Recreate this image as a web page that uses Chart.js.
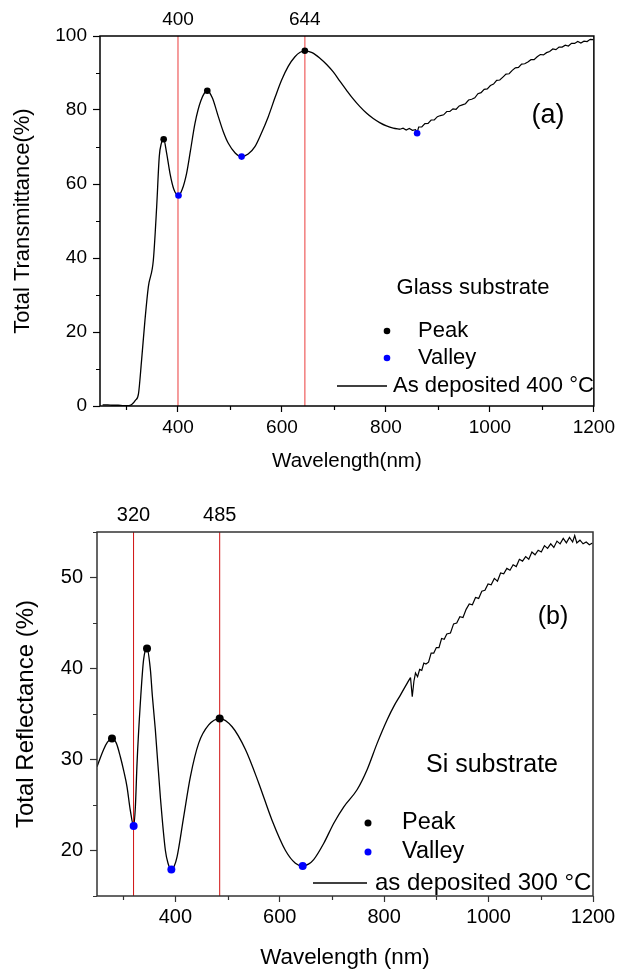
<!DOCTYPE html>
<html>
<head>
<meta charset="utf-8">
<script src="https://cdn.jsdelivr.net/npm/chart.js@4.4.1/dist/chart.umd.min.js"></script>
<style>
  html, body { margin: 0; padding: 0; background: #fff; }
  .panel { width: 619px; height: 486px; }
</style>
</head>
<body>
<div class="panel"><canvas id="chartA" width="619" height="486"></canvas></div>
<div class="panel"><canvas id="chartB" width="619" height="486"></canvas></div>
<script>
// ---- (a) glass substrate, total transmittance ----
// smooth part of the spectrum
const wlA = [255, 265, 275, 285, 295, 305, 311, 318, 324, 330, 336.5, 343, 352.6, 359, 364, 368, 372.5, 378, 384.6, 392,
  401, 408, 416.6, 424, 432.7, 444, 456.4, 466, 477.6, 487, 496.8, 510, 522.4, 535, 548, 560, 573.7, 587, 599.4, 612,
  625, 635, 644, 658, 673, 686, 698.7, 711, 724, 737, 750, 763, 775.6, 788, 801, 814, 827];
const transA = [0.3, 0.3, 0.2, 0.2, 0.1, 0.1, 0.4, 1.5, 3.3, 12.4, 23.2, 32.2, 39.4, 53.8, 67.4, 71.0, 72.1, 68.5, 62.9, 58.6,
  56.9, 58.5, 62.9, 69.0, 76.4, 82.5, 85.2, 83.3, 78.2, 74.2, 71.0, 68.4, 67.4, 68.1, 70.1, 73.6, 78.2, 83.5, 88.1, 91.8,
  94.4, 95.6, 96.0, 95.5, 94.0, 92.3, 90.3, 87.9, 85.4, 83.0, 80.9, 79.1, 77.7, 76.6, 75.7, 75.1, 74.8];
// noisy tail (detector region)
const wlNoisyA = [827, 833, 839, 845, 851, 857, 860, 863, 869, 875, 881, 887, 893, 899, 905, 911, 917, 923, 929, 935, 941,
  947, 953, 959, 965, 971, 977, 983, 989, 995, 1001, 1007, 1013, 1019, 1025, 1031, 1037, 1043, 1049, 1055, 1061, 1067,
  1073, 1079, 1085, 1091, 1097, 1103, 1109, 1115, 1121, 1127, 1133, 1139, 1145, 1151, 1157, 1163, 1169, 1175, 1181,
  1187, 1193, 1199];
const transNoisyA = [74.8, 75.1, 74.6, 75.0, 74.5, 74.7, 73.9, 75.4, 75.4, 76.3, 76.4, 77.3, 77.3, 78.2, 78.5, 78.7, 79.6,
  79.6, 80.3, 80.2, 81.1, 81.4, 81.7, 82.7, 82.9, 83.3, 84.4, 84.7, 85.6, 85.7, 86.6, 87.0, 88.0, 88.1, 88.9, 89.7,
  89.8, 90.7, 91.4, 91.5, 92.4, 92.5, 93.0, 93.6, 93.6, 94.4, 95.0, 94.9, 95.5, 95.8, 96.5, 96.3, 97.0, 97.0, 97.5,
  97.3, 98.0, 98.0, 98.5, 98.1, 98.6, 98.5, 99.1, 99.0];
const peakWlA = [372.5, 456.4, 644];
const peakTA = [72.1, 85.2, 96.0];
const valleyWlA = [401, 522.4, 860];
const valleyTA = [56.9, 67.4, 73.7];
const markWlA = [400, 644];
const xTicksA = [400, 600, 800, 1000, 1200];
const xMinorA = [300, 500, 700, 900, 1100];
const yTicksA = [0, 20, 40, 60, 80, 100];
const yMinorA = [10, 30, 50, 70, 90];

// ---- (b) Si substrate, total reflectance ----
const wlB = [250, 262.7, 270, 278.7, 287, 294.7, 301, 307.5, 313.8, 320.2, 323.5, 326.7, 333, 339.3, 345.8, 352.2, 356,
  361.7, 371.3, 381, 386, 392.4, 398, 403.3, 416, 428.8, 444.8, 463.9, 485, 508.8, 534.3, 559.8, 585.4, 611, 630, 644,
  655, 665, 684.4, 703.5, 722.7, 748.4, 767.5, 786.7, 806, 820, 831.4, 844.2, 850.5];
const reflB = [29.2, 31.1, 31.9, 32.3, 31.8, 30.3, 28.8, 27.0, 24.4, 22.7, 24.8, 29.6, 36.2, 41.0, 42.2, 39.9, 37.0,
  33.3, 25.9, 20.0, 18.6, 17.9, 18.3, 19.3, 23.7, 28.1, 31.8, 33.8, 34.5, 33.6, 31.1, 27.4, 23.3, 20.0, 18.6, 18.3,
  18.5, 19.0, 20.8, 23.0, 24.8, 26.7, 28.9, 31.8, 34.4, 36.0, 37.1, 38.4, 39.0];
const wlNoisyB = [850.5, 853.8, 857, 860, 864, 868, 872, 876, 880, 885, 890, 895, 900, 905, 910, 915, 920, 927, 933, 939,
  945, 951, 957, 963, 969, 975, 981, 987, 993, 999, 1005, 1011, 1017, 1023, 1029, 1035, 1041, 1047, 1053, 1059, 1065,
  1071, 1077, 1083, 1089, 1095, 1101, 1107, 1113, 1119, 1125, 1131, 1137, 1143, 1149, 1155, 1161, 1165, 1169, 1175,
  1181, 1187, 1193, 1199];
const reflNoisyB = [39.0, 36.9, 38.6, 39.5, 39.1, 39.9, 39.8, 40.6, 40.5, 40.7, 41.7, 41.7, 42.3, 42.3, 43.3, 43.2, 43.8,
  43.9, 44.9, 45.0, 45.7, 45.6, 46.5, 47.1, 47.0, 47.8, 47.7, 48.5, 48.6, 49.3, 49.2, 49.9, 49.6, 50.5, 50.4, 51.0,
  50.8, 51.4, 51.2, 52.0, 51.8, 52.3, 52.0, 52.8, 52.5, 53.0, 52.8, 53.5, 53.2, 53.7, 53.3, 54.0, 53.7, 54.3, 53.8,
  54.4, 53.9, 54.6, 53.8, 54.1, 53.7, 53.9, 53.6, 53.8];
const peakWlB = [278.7, 345.8, 485];
const peakRB = [32.3, 42.2, 34.5];
const valleyWlB = [320.2, 392.4, 644];
const valleyRB = [22.7, 17.9, 18.3];
const markWlB = [320, 485];
const xTicksB = [400, 600, 800, 1000, 1200];
const xMinorB = [300, 500, 700, 900, 1100];
const yTicksB = [20, 30, 40, 50];
const yMinorB = [15, 25, 35, 45, 55];

const FONT = '"Liberation Sans", Arial, sans-serif';
Chart.defaults.font.family = FONT;
Chart.defaults.color = '#000';

function pts(xs, ys) {
    return xs.map((x, i) => ({ x: x, y: ys[i] }));
}

function fixTicks(values) {
    return function (scale) {
        scale.ticks = values.map(v => ({ value: v }));
    };
}

// frame, minor ticks, in-plot legend and labels
const decorPlugin = {
    id: 'decor',
    afterDraw(chart, args, opts) {
        const ctx = chart.ctx;
        const a = chart.chartArea;
        const sx = chart.scales.x, sy = chart.scales.y;
        ctx.save();
        ctx.strokeStyle = opts.frameColor;
        ctx.lineWidth = 1.5;
        ctx.strokeRect(a.left, a.top, a.right - a.left, a.bottom - a.top);
        ctx.lineWidth = 1.2;
        ctx.beginPath();
        opts.minorX.forEach(v => {
            const px = Math.round(sx.getPixelForValue(v)) + 0.5;
            ctx.moveTo(px, a.bottom);
            ctx.lineTo(px, a.bottom + 4);
        });
        opts.minorY.forEach(v => {
            const py = Math.round(sy.getPixelForValue(v)) + 0.5;
            ctx.moveTo(a.left - 4, py);
            ctx.lineTo(a.left, py);
        });
        ctx.stroke();

        // legend swatches
        opts.dots.forEach(d => {
            ctx.fillStyle = d.color;
            ctx.beginPath();
            ctx.arc(d.x, d.y, d.r, 0, Math.PI * 2);
            ctx.fill();
        });
        ctx.strokeStyle = '#000';
        ctx.lineWidth = 1.3;
        opts.lines.forEach(l => {
            ctx.beginPath();
            ctx.moveTo(l.x1, l.y);
            ctx.lineTo(l.x2, l.y);
            ctx.stroke();
        });
        ctx.fillStyle = '#000';
        ctx.textBaseline = 'middle';
        opts.texts.forEach(t => {
            ctx.font = t.size + 'px ' + FONT;
            ctx.textAlign = t.align;
            ctx.fillText(t.text, t.x, t.y);
        });
        ctx.restore();
    }
};

function makePanel(id, p) {
    const ctx = document.getElementById(id).getContext('2d');
    const datasets = [
        { data: pts(p.peakX, p.peakY), showLine: false, pointRadius: p.dotR, pointBackgroundColor: '#000', pointBorderWidth: 0 },
        { data: pts(p.valleyX, p.valleyY), showLine: false, pointRadius: p.dotR, pointBackgroundColor: '#0000ff', pointBorderWidth: 0 },
        // smooth part, monotone spline
        { data: pts(p.wl, p.val), showLine: true, borderColor: '#000', borderWidth: 1.3, pointRadius: 0, cubicInterpolationMode: 'monotone' },
        // noisy tail, straight segments
        { data: pts(p.wlNoisy, p.valNoisy), showLine: true, borderColor: '#000', borderWidth: 1.2, pointRadius: 0, tension: 0 }
    ];
    // vertical marker lines, drawn underneath the curve
    p.marks.forEach(m => {
        datasets.push({
            data: [{ x: m, y: p.yMin }, { x: m, y: p.yMax }],
            showLine: true, borderColor: p.markColor, borderWidth: p.markWidth, pointRadius: 0
        });
    });

    new Chart(ctx, {
        type: 'scatter',
        data: { datasets: datasets },
        options: {
            responsive: false,
            animation: false,
            events: [],
            layout: { padding: { left: 0, right: p.padRight, top: 0, bottom: 0 } },
            plugins: {
                legend: { display: false },
                tooltip: { enabled: false },
                decor: p.decor
            },
            scales: {
                x: {
                    type: 'linear', position: 'bottom', min: 250, max: 1200,
                    afterBuildTicks: fixTicks(p.xTicks),
                    afterFit: s => { s.height = p.bottomH; },
                    ticks: { callback: v => String(v), font: { size: p.tickSize }, color: '#000', padding: p.xPad, maxRotation: 0, autoSkip: false },
                    grid: { display: true, drawOnChartArea: false, drawTicks: true, tickLength: 6, tickColor: p.frameColor, tickWidth: 1.2 },
                    border: { display: false },
                    title: { display: true, text: p.xTitle, font: { size: p.xTitleSize }, color: '#000', padding: { top: 0, bottom: p.xTitlePad } }
                },
                xt: {
                    type: 'linear', position: 'top', min: 250, max: 1200,
                    afterBuildTicks: fixTicks(p.marks),
                    afterFit: s => { s.height = p.topH; },
                    ticks: { callback: v => String(v), font: { size: p.tickSize }, color: '#000', padding: p.topPad, maxRotation: 0, autoSkip: false },
                    grid: { display: false, drawTicks: false },
                    border: { display: false }
                },
                y: {
                    type: 'linear', min: p.yMin, max: p.yMax,
                    afterBuildTicks: fixTicks(p.yTicks),
                    afterFit: s => { s.width = p.leftW; },
                    ticks: { callback: v => String(v), font: { size: p.tickSize }, color: '#000', padding: p.yPad },
                    grid: { display: true, drawOnChartArea: false, drawTicks: true, tickLength: 7, tickColor: p.frameColor, tickWidth: 1.2 },
                    border: { display: false },
                    title: { display: true, text: p.yTitle, font: { size: p.yTitleSize }, color: '#000', padding: { top: p.yTitlePad, bottom: 0 } }
                }
            }
        },
        plugins: [decorPlugin]
    });
}

makePanel('chartA', {
    wl: wlA, val: transA, wlNoisy: wlNoisyA, valNoisy: transNoisyA,
    peakX: peakWlA, peakY: peakTA, valleyX: valleyWlA, valleyY: valleyTA,
    marks: markWlA, markColor: '#f38585', markWidth: 1.6, dotR: 3.3,
    yMin: 0, yMax: 100, xTicks: xTicksA, yTicks: yTicksA,
    frameColor: '#000', padRight: 24, leftW: 100, topH: 36, bottomH: 80,
    tickSize: 19, xPad: 4, topPad: 5, yPad: 6,
    xTitle: 'Wavelength(nm)', xTitleSize: 20.5, xTitlePad: 12,
    yTitle: 'Total Transmittance(%)', yTitleSize: 22, yTitlePad: 10,
    decor: {
        frameColor: '#000', minorX: xMinorA, minorY: yMinorA,
        dots: [{ x: 387, y: 331, r: 3.3, color: '#000' }, { x: 387, y: 358, r: 3.3, color: '#0000ff' }],
        lines: [{ x1: 337, x2: 387, y: 386 }],
        texts: [
            { text: 'Glass substrate', x: 473, y: 288, size: 22, align: 'center' },
            { text: 'Peak', x: 418, y: 331, size: 22, align: 'left' },
            { text: 'Valley', x: 418, y: 358, size: 22, align: 'left' },
            { text: 'As deposited 400 \u00B0C', x: 393, y: 386, size: 22, align: 'left' },
            { text: '(a)', x: 548, y: 116, size: 27, align: 'center' }
        ]
    }
});

makePanel('chartB', {
    wl: wlB, val: reflB, wlNoisy: wlNoisyB, valNoisy: reflNoisyB,
    peakX: peakWlB, peakY: peakRB, valleyX: valleyWlB, valleyY: valleyRB,
    marks: markWlB, markColor: '#d01010', markWidth: 1, dotR: 4,
    yMin: 15, yMax: 55, xTicks: xTicksB, yTicks: yTicksB,
    frameColor: '#333', padRight: 26, leftW: 97, topH: 46, bottomH: 76,
    tickSize: 20, xPad: 3, topPad: 5, yPad: 7,
    xTitle: 'Wavelength (nm)', xTitleSize: 22.4, xTitlePad: 1,
    yTitle: 'Total Reflectance (%)', yTitleSize: 24, yTitlePad: 12,
    decor: {
        frameColor: '#333', minorX: xMinorB, minorY: yMinorB,
        dots: [{ x: 368, y: 337, r: 3.5, color: '#000' }, { x: 368, y: 366, r: 3.5, color: '#0000ff' }],
        lines: [{ x1: 313, x2: 367, y: 397 }],
        texts: [
            { text: 'Si substrate', x: 492, y: 279, size: 25, align: 'center' },
            { text: 'Peak', x: 402, y: 337, size: 23.5, align: 'left' },
            { text: 'Valley', x: 402, y: 366, size: 23.5, align: 'left' },
            { text: 'as deposited 300 \u00B0C', x: 375, y: 397, size: 24, align: 'left' },
            { text: '(b)', x: 553, y: 131, size: 25, align: 'center' }
        ]
    }
});
</script>
</body>
</html>
